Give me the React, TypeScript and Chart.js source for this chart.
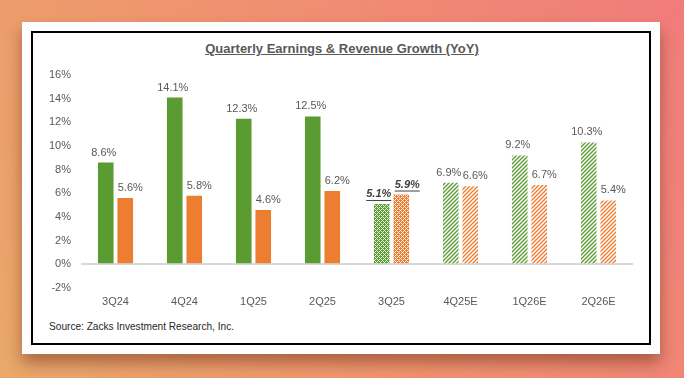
import React, { useEffect, useRef } from "react";
import { Chart, registerables } from "chart.js";

Chart.register(...registerables);

const categories = ["3Q24", "4Q24", "1Q25", "2Q25", "3Q25", "4Q25E", "1Q26E", "2Q26E"];
const earningsGrowth = [8.6, 14.1, 12.3, 12.5, 5.1, 6.9, 9.2, 10.3];
const revenueGrowth = [5.6, 5.8, 4.6, 6.2, 5.9, 6.6, 6.7, 5.4];
// bar style per category: solid = reported, current = in-progress quarter, estimate = forecast
const barKinds = ["solid", "solid", "solid", "solid", "current", "estimate", "estimate", "estimate"];
const yTicks = [-2, 0, 2, 4, 6, 8, 10, 12, 14, 16];
const titleText = "Quarterly Earnings & Revenue Growth (YoY)";
const sourceText = "Source: Zacks Investment Research, Inc.";

const GREEN = "#5a9c32";
const ORANGE = "#ed7d31";

function stripePattern(color: string) {
  const c = document.createElement("canvas");
  c.width = 4;
  c.height = 4;
  const ctx = c.getContext("2d")!;
  ctx.fillStyle = "#ffffff";
  ctx.fillRect(0, 0, 4, 4);
  ctx.strokeStyle = color;
  ctx.lineWidth = 1.35;
  ctx.beginPath();
  ctx.moveTo(-1, 5);
  ctx.lineTo(5, -1);
  ctx.moveTo(-1, 1);
  ctx.lineTo(1, -1);
  ctx.moveTo(3, 5);
  ctx.lineTo(5, 3);
  ctx.stroke();
  return ctx.createPattern(c, "repeat")!;
}

function checkerPattern(color: string) {
  const c = document.createElement("canvas");
  c.width = 4;
  c.height = 4;
  const ctx = c.getContext("2d")!;
  ctx.fillStyle = color;
  ctx.fillRect(0, 0, 4, 4);
  ctx.fillStyle = "rgba(255,255,255,0.85)";
  const white = [
    [2, 0],
    [1, 1],
    [3, 1],
    [0, 2],
    [1, 3],
    [3, 3],
  ];
  for (const [x, y] of white) ctx.fillRect(x, y, 1, 1);
  return ctx.createPattern(c, "repeat")!;
}

function fillsFor(color: string) {
  const stripe = stripePattern(color);
  const check = checkerPattern(color);
  return barKinds.map((k) => (k === "solid" ? color : k === "current" ? check : stripe));
}

const labelPlugin = {
  id: "valueLabels",
  afterDatasetsDraw(chart: any) {
    const ctx = chart.ctx as CanvasRenderingContext2D;
    chart.data.datasets.forEach((ds: any, di: number) => {
      const meta = chart.getDatasetMeta(di);
      meta.data.forEach((bar: any, i: number) => {
        const v = ds.data[i];
        const text = v.toFixed(1) + "%";
        const special = barKinds[i] === "current";
        const dx = di === 0 ? (special ? -3 : -2) : special ? 6 : 5;
        const x = bar.x + dx;
        const y = bar.y - 10;
        ctx.save();
        ctx.font = special
          ? "italic bold 11px 'Liberation Sans', Arial, sans-serif"
          : "11px 'Liberation Sans', Arial, sans-serif";
        ctx.fillStyle = special ? "#404040" : "#595959";
        ctx.textAlign = "center";
        ctx.textBaseline = "middle";
        ctx.fillText(text, x, y);
        if (special) {
          const w = ctx.measureText(text).width;
          ctx.strokeStyle = "#404040";
          ctx.lineWidth = 1;
          ctx.beginPath();
          ctx.moveTo(x - w / 2, y + 6.5);
          ctx.lineTo(x + w / 2, y + 6.5);
          ctx.stroke();
        }
        ctx.restore();
      });
    });
  },
};

export default function App() {
  const canvasRef = useRef<HTMLCanvasElement | null>(null);

  useEffect(() => {
    document.body.style.margin = "0";
    const canvas = canvasRef.current!;
    const chart = new Chart(canvas, {
      type: "bar",
      data: {
        labels: categories,
        datasets: [
          {
            label: "Earnings Growth",
            data: earningsGrowth,
            backgroundColor: fillsFor(GREEN) as any,
            borderWidth: 0,
          },
          {
            label: "Revenue Growth",
            data: revenueGrowth,
            backgroundColor: fillsFor(ORANGE) as any,
            borderWidth: 0,
          },
        ],
      },
      options: {
        responsive: false,
        animation: false,
        events: [],
        layout: { padding: { left: 35, right: 51, top: 75, bottom: 66 } },
        datasets: { bar: { categoryPercentage: 0.565, barPercentage: 0.8 } },
        plugins: {
          legend: { display: false },
          title: { display: false },
          tooltip: { enabled: false },
        },
        scales: {
          x: {
            grid: { display: false, drawTicks: false },
            border: { display: false },
            ticks: {
              color: "#595959",
              padding: 7,
              font: { family: "'Liberation Sans', Arial, sans-serif", size: 11 },
            },
            afterFit: (axis: any) => {
              axis.height = 24;
            },
          },
          y: {
            min: -2,
            max: 16,
            afterBuildTicks: (axis: any) => {
              axis.ticks = yTicks.map((v) => ({ value: v }));
            },
            grid: {
              drawTicks: false,
              color: (c: any) => (c.tick && c.tick.value === 0 ? "#d9d9d9" : "rgba(0,0,0,0)"),
              lineWidth: 2,
            },
            border: { display: false },
            ticks: {
              color: "#595959",
              padding: 10,
              font: { family: "'Liberation Sans', Arial, sans-serif", size: 11 },
              callback: (v: any) => v + "%",
            },
            afterFit: (axis: any) => {
              axis.width = 46;
            },
          },
        },
      },
      plugins: [labelPlugin],
    });
    return () => chart.destroy();
  }, []);

  return (
    <div
      style={{
        position: "relative",
        width: 684,
        height: 378,
        overflow: "hidden",
        background: "linear-gradient(60deg, #e9a86a 0%, #f0936f 45%, #f07c7b 100%)",
      }}
    >
      <div
        style={{
          position: "absolute",
          left: 22,
          top: 22,
          width: 638,
          height: 332,
          background: "#ffffff",
          boxShadow: "0 9px 14px rgba(90,35,15,0.45)",
        }}
      />
      <div
        style={{
          position: "absolute",
          left: 31,
          top: 31,
          width: 620,
          height: 314,
          border: "2px solid #000",
          boxSizing: "border-box",
        }}
      />
      <div
        style={{
          position: "absolute",
          left: 0,
          top: 41,
          width: 684,
          textAlign: "center",
          font: "bold 13px 'Liberation Sans', Arial, sans-serif",
          lineHeight: "16px",
          color: "#595959",
          textDecoration: "underline",
        }}
      >
        {titleText}
      </div>
      <div
        style={{
          position: "absolute",
          left: 49,
          top: 319,
          font: "11px 'Liberation Sans', Arial, sans-serif",
          lineHeight: "14px",
          color: "#262626",
          whiteSpace: "nowrap",
          transform: "scaleX(0.92)",
          transformOrigin: "left center",
        }}
      >
        {sourceText}
      </div>
      <canvas
        ref={canvasRef}
        width={684}
        height={378}
        style={{ position: "absolute", left: 0, top: 0, width: 684, height: 378 }}
      />
    </div>
  );
}
